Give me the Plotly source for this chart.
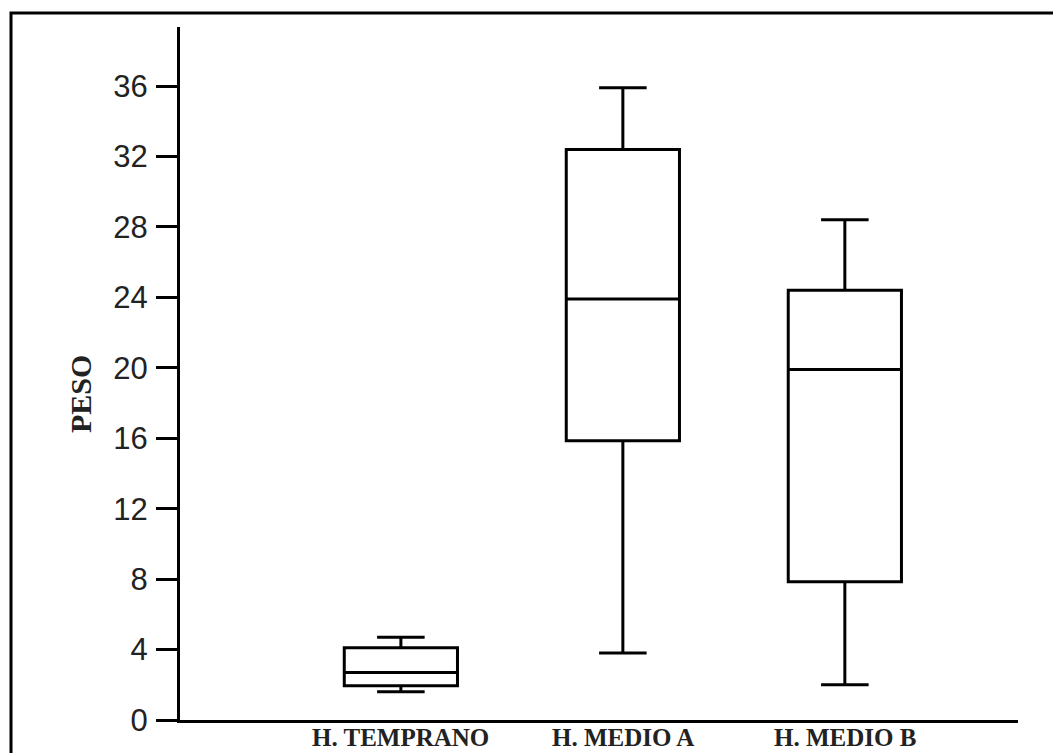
import plotly.graph_objects as go

categories = ["H. TEMPRANO", "H. MEDIO A", "H. MEDIO B"]
positions = [0, 1, 2]
lower_whisker = [1.6, 3.8, 2.0]
q1_values = [1.95, 15.85, 7.85]
median_values = [2.7, 23.9, 19.9]
q3_values = [4.1, 32.4, 24.4]
upper_whisker = [4.7, 35.9, 28.4]
y_ticks = [0, 4, 8, 12, 16, 20, 24, 28, 32, 36]

W, H = 1053, 753
L, R, T, B = 180, 35, 27, 33
pw, ph = W - L - R, H - T - B

def px_x(p):
    return (p - L) / pw

def px_y(p):
    return (H - B - p) / ph

fig = go.Figure()
fig.add_trace(go.Box(
    x=positions,
    q1=q1_values,
    median=median_values,
    q3=q3_values,
    lowerfence=lower_whisker,
    upperfence=upper_whisker,
    width=0.51,
    whiskerwidth=0.42,
    fillcolor="white",
    line=dict(color="black", width=3),
    boxpoints=False,
    showlegend=False,
    hoverinfo="skip",
))

annotations = [dict(
    text="<b>PESO</b>", textangle=-90,
    x=px_x(80), y=px_y(394), xref="paper", yref="paper",
    showarrow=False, xanchor="center", yanchor="middle",
    font=dict(family="Liberation Serif", size=30, color="#222"),
)]
for pos, cat in zip(positions, categories):
    annotations.append(dict(
        text="<b>%s</b>" % cat,
        x=pos, y=px_y(752), xref="x", yref="paper",
        showarrow=False, xanchor="center", yanchor="bottom", borderpad=0,
        font=dict(family="Liberation Serif", size=25, color="#222"),
    ))

fig.update_layout(
    width=W, height=H,
    margin=dict(l=L, r=R, t=T, b=B, pad=0, autoexpand=False),
    paper_bgcolor="white",
    plot_bgcolor="white",
    xaxis=dict(
        range=[-0.995, 2.78],
        tickvals=positions,
        showticklabels=False,
        showline=True, linecolor="black", linewidth=3,
        ticks="", showgrid=False, zeroline=False, automargin=False,
    ),
    yaxis=dict(
        range=[0, 39.35],
        tickvals=y_ticks,
        showline=True, linecolor="black", linewidth=3,
        ticks="outside", ticklen=21, tickwidth=3, tickcolor="black",
        showgrid=False, zeroline=False, automargin=False,
        tickfont=dict(family="Liberation Sans", size=31, color="#222"),
        ticklabelstandoff=2,
    ),
    annotations=annotations,
    shapes=[dict(
        type="rect", xref="paper", yref="paper",
        x0=px_x(11), x1=px_x(1080), y0=px_y(780), y1=px_y(13),
        line=dict(color="black", width=3), fillcolor="rgba(0,0,0,0)", layer="above",
    )],
)

fig.write_html("out.html")
